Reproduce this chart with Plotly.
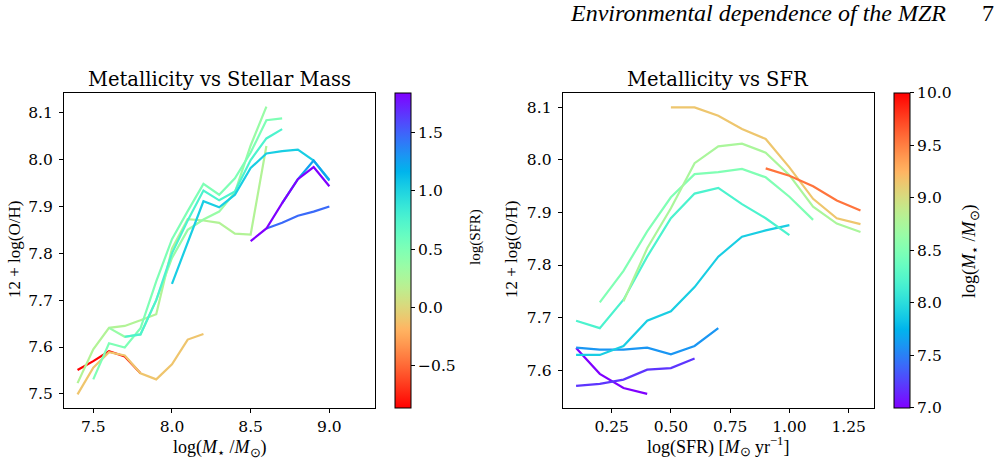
import math
import plotly.graph_objects as go

# ---------------- data: left panel (metallicity vs stellar mass, coloured by log SFR)
mass_red = [7.4, 7.5, 7.6, 7.7, 7.8]
oh_red = [7.551, 7.570, 7.591, 7.580, 7.544]
sfr_red = -0.86

mass_tan = [7.4, 7.5, 7.6, 7.7, 7.8, 7.9, 8.0, 8.1, 8.2]
oh_tan = [7.499, 7.556, 7.589, 7.582, 7.544, 7.531, 7.563, 7.616, 7.628]
sfr_tan = -0.10

mass_yg = [7.4, 7.5, 7.6, 7.7, 7.8, 7.9, 8.0, 8.1, 8.2, 8.3, 8.4, 8.5, 8.6]
oh_yg = [7.523, 7.595, 7.641, 7.645, 7.657, 7.670, 7.810, 7.873, 7.870, 7.865, 7.842, 7.840, 8.029]
sfr_yg = 0.22

mass_lg = [7.6, 7.7, 7.8, 7.9, 8.0, 8.1, 8.2, 8.3, 8.4, 8.5, 8.6]
oh_lg = [7.641, 7.622, 7.627, 7.700, 7.790, 7.850, 7.872, 7.889, 7.930, 8.030, 8.113]
sfr_lg = 0.36

mass_mint = [7.5, 7.6, 7.7, 7.8, 7.9, 8.0, 8.1, 8.2, 8.3, 8.4, 8.5, 8.6, 8.7]
oh_mint = [7.531, 7.608, 7.599, 7.640, 7.740, 7.830, 7.890, 7.948, 7.925, 7.960, 8.015, 8.084, 8.088]
sfr_mint = 0.50

mass_aqua = [7.7, 7.8, 7.9, 8.0, 8.1, 8.2, 8.3, 8.4, 8.5, 8.6, 8.7]
oh_aqua = [7.622, 7.627, 7.700, 7.800, 7.870, 7.934, 7.913, 7.932, 7.999, 8.045, 8.065]
sfr_aqua = 0.76

mass_cyan = [8.0, 8.1, 8.2, 8.3, 8.4, 8.5, 8.6, 8.7, 8.8, 8.9, 9.0]
oh_cyan = [7.735, 7.822, 7.911, 7.898, 7.925, 7.982, 8.013, 8.018, 8.021, 7.998, 7.957]
sfr_cyan = 1.03

mass_lblue = [8.7, 8.8, 8.9, 9.0]
oh_lblue = [7.907, 7.958, 7.998, 7.955]
sfr_lblue = 1.25

mass_blue = [8.6, 8.7, 8.8, 8.9, 9.0]
oh_blue = [7.853, 7.865, 7.880, 7.889, 7.900]
sfr_blue = 1.47

mass_purple = [8.5, 8.6, 8.7, 8.8, 8.9, 9.0]
oh_purple = [7.826, 7.853, 7.907, 7.958, 7.984, 7.943]
sfr_purple = 1.84

left_series = [
    (mass_red, oh_red, sfr_red),
    (mass_tan, oh_tan, sfr_tan),
    (mass_yg, oh_yg, sfr_yg),
    (mass_lg, oh_lg, sfr_lg),
    (mass_mint, oh_mint, sfr_mint),
    (mass_aqua, oh_aqua, sfr_aqua),
    (mass_cyan, oh_cyan, sfr_cyan),
    (mass_lblue, oh_lblue, sfr_lblue),
    (mass_blue, oh_blue, sfr_blue),
    (mass_purple, oh_purple, sfr_purple),
]
sfr_min, sfr_max = -0.86, 1.84

# ---------------- data: right panel (metallicity vs SFR, coloured by log M*)
sfr_a = [0.1, 0.2, 0.3, 0.4]
oh_a = [7.642, 7.593, 7.566, 7.555]
m_a = 7.0

sfr_b = [0.1, 0.2, 0.3, 0.4, 0.5, 0.6]
oh_b = [7.570, 7.574, 7.582, 7.601, 7.604, 7.622]
m_b = 7.2

sfr_c = [0.1, 0.2, 0.3, 0.4, 0.5, 0.6, 0.7]
oh_c = [7.643, 7.639, 7.639, 7.643, 7.630, 7.646, 7.680]
m_c = 7.6

sfr_d = [0.1, 0.2, 0.3, 0.4, 0.5, 0.6, 0.7, 0.8, 0.9, 1.0]
oh_d = [7.629, 7.629, 7.646, 7.694, 7.712, 7.758, 7.816, 7.854, 7.866, 7.876]
m_d = 7.9

sfr_e = [0.1, 0.2, 0.3, 0.4, 0.5, 0.6, 0.7, 0.8, 0.9, 1.0]
oh_e = [7.694, 7.680, 7.734, 7.816, 7.889, 7.936, 7.947, 7.916, 7.889, 7.857]
m_e = 8.2

sfr_f = [0.2, 0.3, 0.4, 0.5, 0.6, 0.7, 0.8, 0.9, 1.0, 1.1]
oh_f = [7.729, 7.789, 7.864, 7.929, 7.973, 7.977, 7.983, 7.967, 7.930, 7.886]
m_f = 8.5

sfr_g = [0.3, 0.4, 0.5, 0.6, 0.7, 0.8, 0.9, 1.0, 1.1, 1.2, 1.3]
oh_g = [7.731, 7.832, 7.908, 7.994, 8.026, 8.031, 8.014, 7.971, 7.911, 7.879, 7.863]
m_g = 8.75

sfr_h = [0.5, 0.6, 0.7, 0.8, 0.9, 1.0, 1.1, 1.2, 1.3]
oh_h = [8.100, 8.100, 8.084, 8.059, 8.040, 7.986, 7.926, 7.889, 7.878]
m_h = 9.15

sfr_i = [0.9, 1.0, 1.1, 1.2, 1.3]
oh_i = [7.984, 7.970, 7.950, 7.923, 7.904]
m_i = 9.55

right_series = [
    (sfr_a, oh_a, m_a), (sfr_b, oh_b, m_b), (sfr_c, oh_c, m_c),
    (sfr_d, oh_d, m_d), (sfr_e, oh_e, m_e), (sfr_f, oh_f, m_f),
    (sfr_g, oh_g, m_g), (sfr_h, oh_h, m_h), (sfr_i, oh_i, m_i),
]
m_min, m_max = 7.0, 10.0

left_cb_ticks = [-0.5, 0.0, 0.5, 1.0, 1.5]
right_cb_ticks = [7.0, 7.5, 8.0, 8.5, 9.0, 9.5, 10.0]
left_xticks = [7.5, 8.0, 8.5, 9.0]
right_xticks = [0.25, 0.50, 0.75, 1.00, 1.25]
yticks_left = [7.5, 7.6, 7.7, 7.8, 7.9, 8.0, 8.1]
yticks_right = [7.6, 7.7, 7.8, 7.9, 8.0, 8.1]


# ---------------- styling helpers
def rainbow(t):
    t = max(0.0, min(1.0, t))
    r = min(1.0, abs(2 * t - 0.5))
    g = math.sin(math.pi * t)
    b = math.cos(math.pi * t / 2)
    return "rgb(%d,%d,%d)" % (round(r * 255), round(g * 255), round(max(b, 0) * 255))


def scale(reverse):
    n = 40
    out = []
    for k in range(n + 1):
        f = k / n
        out.append([f, rainbow(1 - f if reverse else f)])
    return out


W, H = 1006, 462
TICKFONT = dict(family="DejaVu Serif", size=15.5, color="black")
LABFONT = dict(family="Liberation Serif", size=18, color="black")

fig = go.Figure()

for xs, ys, s in left_series:
    fig.add_trace(go.Scatter(
        x=xs, y=ys, mode="lines", xaxis="x", yaxis="y",
        line=dict(color=rainbow((sfr_max - s) / (sfr_max - sfr_min)), width=2.2),
        showlegend=False, hoverinfo="skip"))

for xs, ys, m in right_series:
    fig.add_trace(go.Scatter(
        x=xs, y=ys, mode="lines", xaxis="x2", yaxis="y2",
        line=dict(color=rainbow((m - m_min) / (m_max - m_min)), width=2.2),
        showlegend=False, hoverinfo="skip"))

# axes pixel boxes
L0, L1 = 64, 375
R0, R1 = 562.7, 874
T, B = 92.7, 408
ydom = [1 - B / H, 1 - T / H]
cb_len = (B - T) / H
cb_y = (ydom[0] + ydom[1]) / 2


def cbar(xpix, ticks, text):
    return dict(
        x=xpix / W, xanchor="left", xpad=0, ypad=0,
        y=cb_y, yanchor="middle", len=cb_len, lenmode="fraction",
        thickness=16, thicknessmode="pixels",
        outlinewidth=1, outlinecolor="black",
        tickmode="array", tickvals=ticks, ticktext=text,
        ticks="outside", ticklen=4, tickwidth=1, tickcolor="black",
        tickfont=TICKFONT,
    )


fig.add_trace(go.Scatter(
    x=[None, None], y=[None, None], xaxis="x", yaxis="y", mode="markers",
    marker=dict(color=[sfr_min, sfr_max], cmin=sfr_min, cmax=sfr_max,
                colorscale=scale(True), showscale=True,
                colorbar=cbar(395, left_cb_ticks,
                              [("−%.1f" % -v) if v < 0 else "%.1f" % v for v in left_cb_ticks])),
    showlegend=False, hoverinfo="skip"))

fig.add_trace(go.Scatter(
    x=[None, None], y=[None, None], xaxis="x2", yaxis="y2", mode="markers",
    marker=dict(color=[m_min, m_max], cmin=m_min, cmax=m_max,
                colorscale=scale(False), showscale=True,
                colorbar=cbar(894, right_cb_ticks, ["%.1f" % v for v in right_cb_ticks])),
    showlegend=False, hoverinfo="skip"))


def axis(dom, rng, ticks, fmt, anchor, standoff):
    return dict(
        domain=dom, range=rng, anchor=anchor,
        tickmode="array", tickvals=ticks, ticktext=[fmt % v for v in ticks],
        ticks="outside", ticklen=4, tickwidth=1, tickcolor="black",
        ticklabelstandoff=standoff,
        showline=True, linecolor="black", linewidth=1.2, mirror=True,
        showgrid=False, zeroline=False, tickfont=TICKFONT,
    )


fig.update_layout(
    width=W, height=H, margin=dict(l=0, r=0, t=0, b=0),
    paper_bgcolor="white", plot_bgcolor="white",
    xaxis=axis([L0 / W, L1 / W], [7.314, 9.29], left_xticks, "%.1f", "y", 0),
    yaxis=axis(ydom, [7.470, 8.1426], yticks_left, "%.1f", "x", 3),
    xaxis2=axis([R0 / W, R1 / W], [0.0435, 1.357], right_xticks, "%.2f", "y2", 0),
    yaxis2=axis(ydom, [7.528, 8.128], yticks_right, "%.1f", "x2", 3),
)

TITLEFONT = dict(family="DejaVu Serif", size=19.5, color="black")
ann = [
    dict(x=(L0 + L1) / 2 / W, y=1 - 79 / H, text="Metallicity vs Stellar Mass", font=TITLEFONT),
    dict(x=(R0 + R1) / 2 / W, y=1 - 79 / H, text="Metallicity vs SFR", font=TITLEFONT),
    dict(x=(L0 + L1) / 2 / W, y=1 - 448 / H,
         text="log(<i>M</i><sub>⋆</sub> /<i>M</i><sub>⊙</sub>)", font=LABFONT),
    dict(x=(R0 + R1) / 2 / W, y=1 - 446 / H,
         text="log(SFR) [<i>M</i><sub>⊙</sub> yr<sup>−1</sup>]", font=LABFONT),
    dict(x=14 / W, y=1 - 250 / H, text="12 + log(O/H)", textangle=-90,
         font=dict(family="Liberation Serif", size=17, color="black")),
    dict(x=511 / W, y=1 - 250 / H, text="12 + log(O/H)", textangle=-90,
         font=dict(family="Liberation Serif", size=17, color="black")),
    dict(x=475 / W, y=1 - 237 / H, text="log(SFR)", textangle=-90,
         font=dict(family="Liberation Serif", size=15, color="black")),
    dict(x=970 / W, y=1 - 251 / H,
         text="log(<i>M</i><sub>⋆</sub> /<i>M</i><sub>⊙</sub>)", textangle=-90, font=LABFONT),
    dict(x=948 / W, y=1 - 13 / H, xanchor="right", text="<i>Environmental dependence of the MZR</i>",
         font=dict(family="Liberation Serif", size=24, color="black")),
    dict(x=996 / W, y=1 - 13 / H, xanchor="right", text="7",
         font=dict(family="Liberation Serif", size=24, color="black")),
]
for a in ann:
    a.setdefault("xanchor", "center")
    a.update(xref="paper", yref="paper", yanchor="middle", showarrow=False)
fig.update_layout(annotations=ann)

fig.write_html("out.html")
